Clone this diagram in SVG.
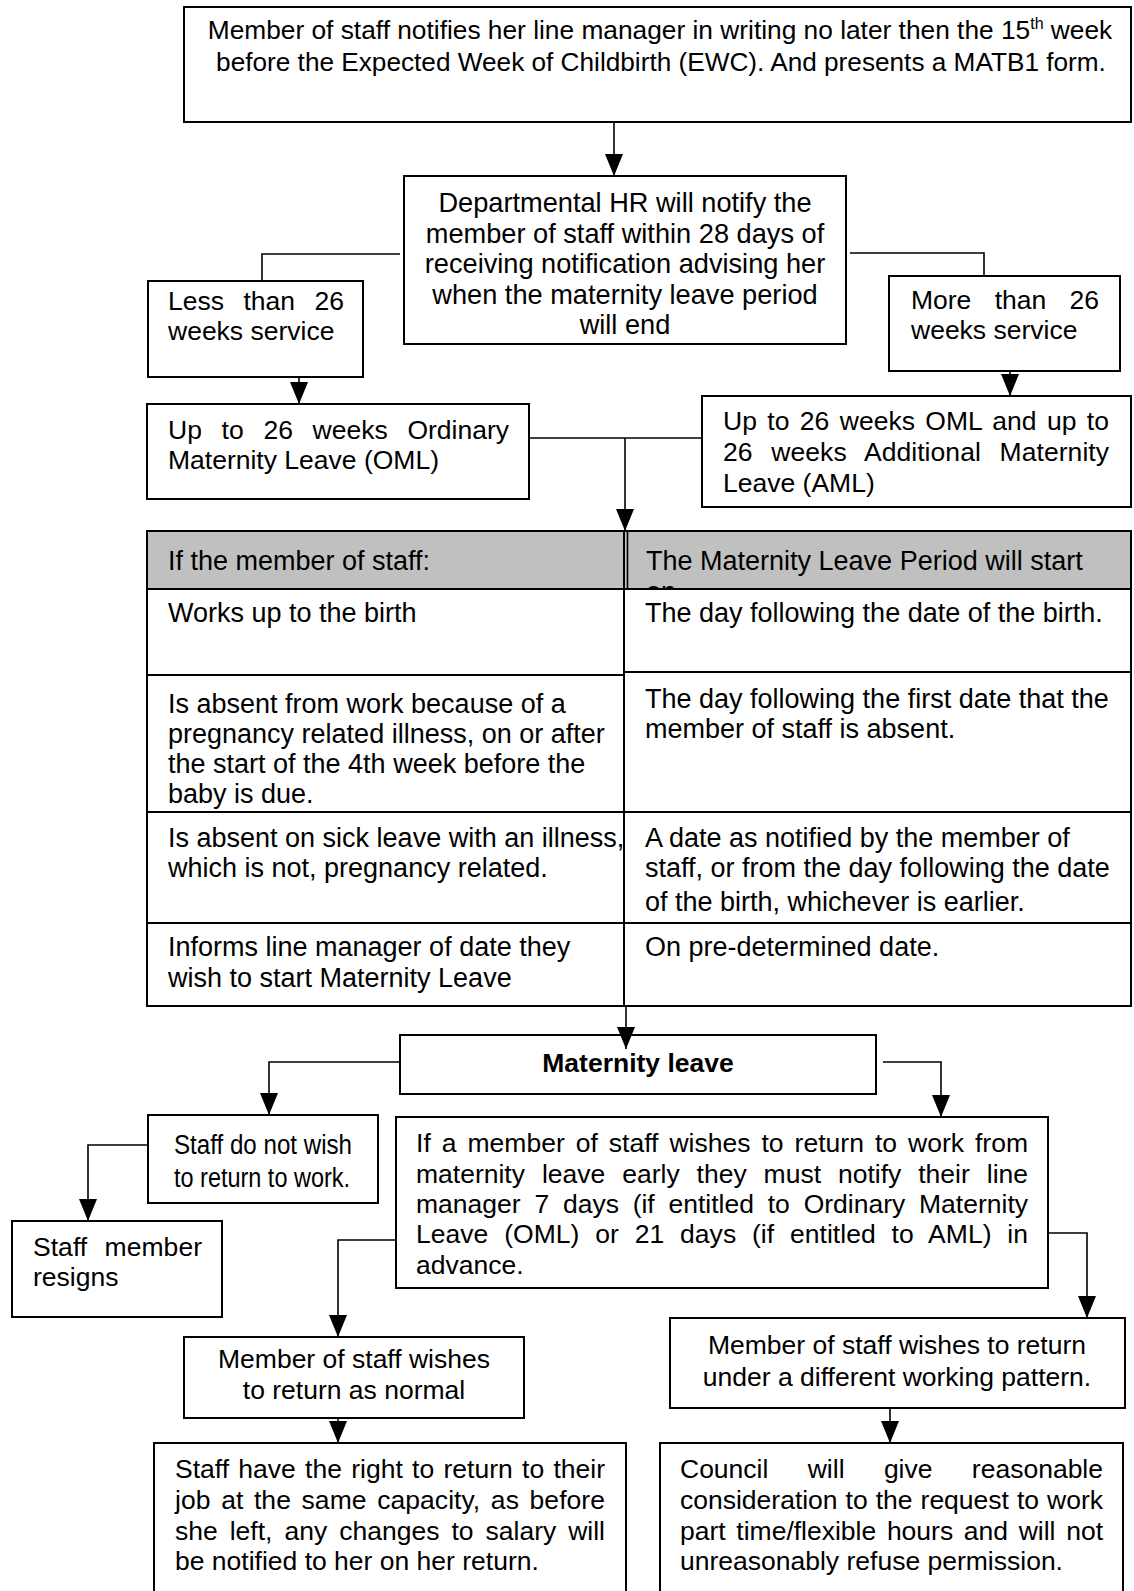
<svg xmlns="http://www.w3.org/2000/svg" width="1134" height="1591" viewBox="0 0 1134 1591">
<style>
.b{fill:#fff;stroke:#000;stroke-width:2}
.t{font-family:"Liberation Sans",Arial,Helvetica,sans-serif;font-size:26.5px;fill:#000}
.tb{font-size:27px}
.th{font-size:27.2px}
.m{text-anchor:middle}
.bold{font-weight:bold}
.nar{font-family:"Liberation Sans Narrow","Arial Narrow","Liberation Sans",Arial,sans-serif;font-size:27px}
.c{fill:none;stroke:#000;stroke-width:1.6}
.g{fill:none;stroke:#000;stroke-width:2}
</style>
<defs>
<marker id="ah" markerUnits="userSpaceOnUse" viewBox="0 0 22 18" markerWidth="22" markerHeight="18" refX="22" refY="9" orient="auto"><path d="M0,0 L22,9 L0,18 Z" fill="#000"/></marker>
<clipPath id="hdr"><rect x="626" y="532" width="504" height="57"/></clipPath>
</defs>

<g id="n-top">
<rect class="b" x="184" y="7" width="947" height="115"/>
<text class="t m" x="660" y="39" style="font-size:26.3px">Member of staff notifies her line manager in writing no later then the 15<tspan font-size="16" dy="-10">th</tspan><tspan dy="10"> week</tspan></text>
<text class="t m" x="661" y="71" style="font-size:26.2px">before the Expected Week of Childbirth (EWC). And presents a MATB1 form.</text>
</g>

<g id="n-hr">
<rect class="b" x="404" y="176" width="442" height="168"/>
<text class="t th m" x="625" y="212">Departmental HR will notify the</text>
<text class="t th m" x="625" y="243">member of staff within 28 days of</text>
<text class="t th m" x="625" y="273">receiving notification advising her</text>
<text class="t th m" x="625" y="304">when the maternity leave period</text>
<text class="t th m" x="625" y="334">will end</text>
</g>

<g id="n-less">
<rect class="b" x="148" y="281" width="215" height="96"/>
<text class="t" x="168" y="310" word-spacing="12" textLength="176">Less than 26</text>
<text class="t" x="168" y="340">weeks service</text>
</g>

<g id="n-more">
<rect class="b" x="889" y="276" width="231" height="95"/>
<text class="t" x="911" y="309" word-spacing="16" textLength="188">More than 26</text>
<text class="t" x="911" y="339">weeks service</text>
</g>

<g id="n-oml">
<rect class="b" x="147" y="404" width="382" height="95"/>
<text class="t" x="168" y="439" word-spacing="12.35" textLength="341">Up to 26 weeks Ordinary</text>
<text class="t" x="168" y="469">Maternity Leave (OML)</text>
</g>

<g id="n-aml">
<rect class="b" x="702" y="396" width="429" height="111"/>
<text class="t" x="723" y="430" word-spacing="2.96" textLength="386">Up to 26 weeks OML and up to</text>
<text class="t" x="723" y="461" word-spacing="11.3" textLength="386">26 weeks Additional Maternity</text>
<text class="t" x="723" y="492">Leave (AML)</text>
</g>

<g id="n-table">
<rect x="147" y="531" width="984" height="58" fill="#c0c0c0"/>
<rect class="g" x="147" y="531" width="984" height="475"/>
<path class="g" d="M147,589 H1131 M147,675 H624 M624,672 H1131 M147,812 H1131 M147,923 H1131 M624,531 V1006"/>
<path class="c" d="M627.5,531 V589"/>
<text class="t tb" x="168" y="570">If the member of staff:</text>
<text class="t tb" x="646" y="570">The Maternity Leave Period will start</text>
<text class="t tb" x="646" y="601" clip-path="url(#hdr)">on</text>
<text class="t tb" x="168" y="622">Works up to the birth</text>
<text class="t tb" x="645" y="622">The day following the date of the birth.</text>
<text class="t tb" x="168" y="713">Is absent from work because of a</text>
<text class="t tb" x="168" y="743">pregnancy related illness, on or after</text>
<text class="t tb" x="168" y="773">the start of the 4th week before the</text>
<text class="t tb" x="168" y="803">baby is due.</text>
<text class="t tb" x="645" y="708">The day following the first date that the</text>
<text class="t tb" x="645" y="738">member of staff is absent.</text>
<text class="t tb" x="168" y="847">Is absent on sick leave with an illness,</text>
<text class="t tb" x="168" y="877">which is not, pregnancy related.</text>
<text class="t tb" x="645" y="847">A date as notified by the member of</text>
<text class="t tb" x="645" y="877">staff, or from the day following the date</text>
<text class="t tb" x="645" y="911">of the birth, whichever is earlier.</text>
<text class="t tb" x="168" y="956">Informs line manager of date they</text>
<text class="t tb" x="168" y="987">wish to start Maternity Leave</text>
<text class="t tb" x="645" y="956">On pre-determined date.</text>
</g>

<g id="n-maternity">
<rect class="b" x="400" y="1035" width="476" height="59"/>
<text class="t m bold" x="638" y="1072">Maternity leave</text>
</g>

<g id="n-nowish">
<rect class="b" x="148" y="1115" width="230" height="88"/>
<text class="t nar m" x="263" y="1154" textLength="178" lengthAdjust="spacingAndGlyphs">Staff do not wish</text>
<text class="t nar m" x="262" y="1187" textLength="176" lengthAdjust="spacingAndGlyphs">to return to work.</text>
</g>

<g id="n-resign">
<rect class="b" x="12" y="1221" width="210" height="96"/>
<text class="t" x="33" y="1256" word-spacing="10" textLength="169">Staff member</text>
<text class="t" x="33" y="1286">resigns</text>
</g>

<g id="n-early">
<rect class="b" x="396" y="1117" width="652" height="171"/>
<text class="t" x="416" y="1152" word-spacing="3.62" textLength="612">If a member of staff wishes to return to work from</text>
<text class="t" x="416" y="1183" word-spacing="9.59" textLength="612">maternity leave early they must notify their line</text>
<text class="t" x="416" y="1213" word-spacing="6.43" textLength="612">manager 7 days (if entitled to Ordinary Maternity</text>
<text class="t" x="416" y="1243" word-spacing="8.43" textLength="612">Leave (OML) or 21 days (if entitled to AML) in</text>
<text class="t" x="416" y="1274">advance.</text>
</g>

<g id="n-normal">
<rect class="b" x="184" y="1337" width="340" height="81"/>
<text class="t m" x="354" y="1368">Member of staff wishes</text>
<text class="t m" x="354" y="1399">to return as normal</text>
</g>

<g id="n-pattern">
<rect class="b" x="670" y="1318" width="455" height="90"/>
<text class="t m" x="897" y="1354">Member of staff wishes to return</text>
<text class="t m" x="897" y="1386">under a different working pattern.</text>
</g>

<g id="n-right">
<rect class="b" x="154" y="1443" width="472" height="170"/>
<text class="t" x="175" y="1478" word-spacing="1.87" textLength="430">Staff have the right to return to their</text>
<text class="t" x="175" y="1509" word-spacing="3.17" textLength="430">job at the same capacity, as before</text>
<text class="t" x="175" y="1540" word-spacing="4.65" textLength="430">she left, any changes to salary will</text>
<text class="t" x="175" y="1570">be notified to her on her return.</text>
</g>

<g id="n-council">
<rect class="b" x="660" y="1443" width="463" height="170"/>
<text class="t" x="680" y="1478" word-spacing="32" textLength="423">Council will give reasonable</text>
<text class="t" x="680" y="1509" word-spacing="0.64" textLength="423">consideration to the request to work</text>
<text class="t" x="680" y="1540" word-spacing="3.3" textLength="423">part time/flexible hours and will not</text>
<text class="t" x="680" y="1570">unreasonably refuse permission.</text>
</g>

<g id="connectors">
<path class="c" d="M614,122 V176" marker-end="url(#ah)"/>
<path class="c" d="M400,254 H262 V281"/>
<path class="c" d="M850,253 H984 V276"/>
<path class="c" d="M299,377 V404" marker-end="url(#ah)"/>
<path class="c" d="M1010,371 V396" marker-end="url(#ah)"/>
<path class="c" d="M529,438 H702"/>
<path class="c" d="M625,438 V531" marker-end="url(#ah)"/>
<path class="c" d="M626,1006 V1049" marker-end="url(#ah)"/>
<path class="c" d="M400,1062 H269 V1115" marker-end="url(#ah)"/>
<path class="c" d="M883,1062 H941 V1117" marker-end="url(#ah)"/>
<path class="c" d="M148,1145 H88 V1221" marker-end="url(#ah)"/>
<path class="c" d="M396,1240 H338 V1337" marker-end="url(#ah)"/>
<path class="c" d="M1048,1233 H1087 V1318" marker-end="url(#ah)"/>
<path class="c" d="M338,1418 V1443" marker-end="url(#ah)"/>
<path class="c" d="M890,1408 V1443" marker-end="url(#ah)"/>
</g>
</svg>
